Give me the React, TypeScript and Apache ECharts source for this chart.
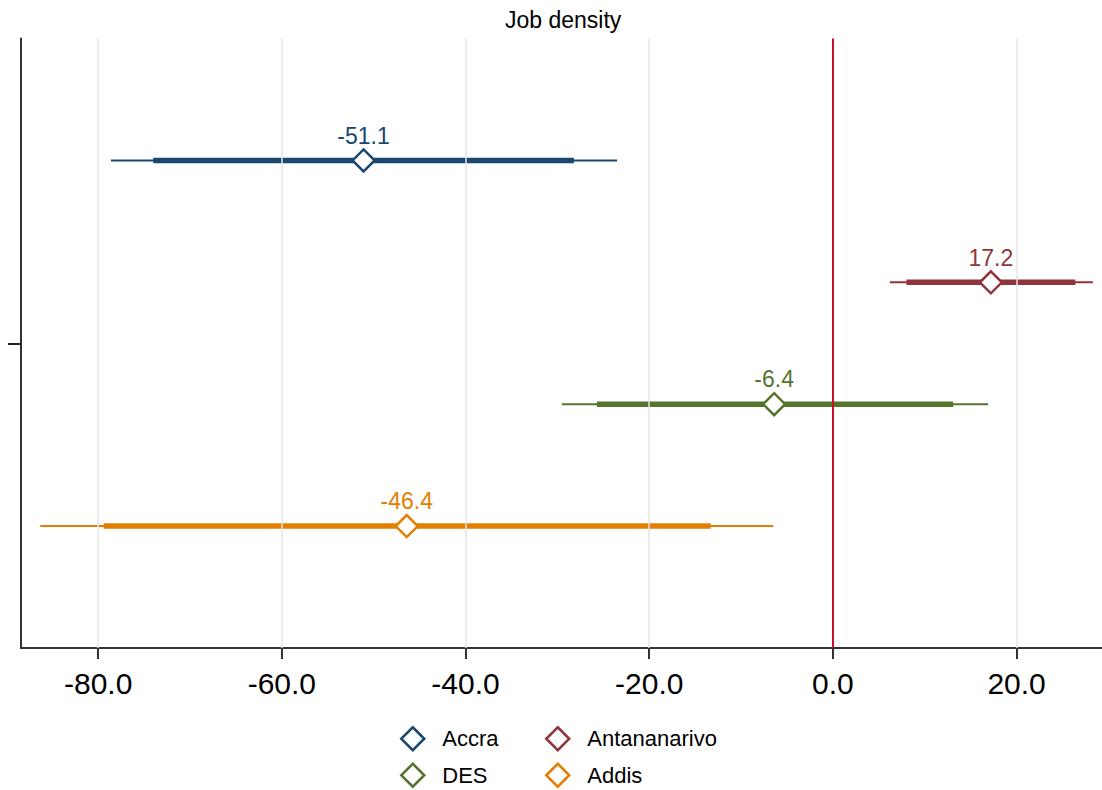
import React, { useEffect, useRef } from "react";
import * as echarts from "echarts";

const cities = ["Accra", "Antananarivo", "DES", "Addis"];
const colors = ["#1a476f", "#90353b", "#55752f", "#e37e00"];
const estimates = [-51.1, 17.2, -6.4, -46.4];
const ci90Low = [-74.0, 8.0, -25.7, -79.4];
const ci90High = [-28.2, 26.4, 13.1, -13.3];
const ci95Low = [-78.6, 6.2, -29.5, -86.3];
const ci95High = [-23.5, 28.3, 16.9, -6.5];
const rows = [1, 2, 3, 4];
const xTickValues = [-80, -60, -40, -20, 0, 20];
const gridValues = [-80, -60, -40, -20, 20];
const refLine = 0;
const yTickValues = [2.5];

const FONT = "'Liberation Sans', Arial, sans-serif";

export default function App() {
  const ref = useRef<HTMLDivElement>(null);

  useEffect(() => {
    if (!ref.current) return;
    const chart = echarts.init(ref.current, null, { renderer: "svg" });

    const series: any[] = [
      {
        name: "_ref",
        type: "line",
        data: [],
        z: 0,
        silent: true,
        markLine: {
          silent: true,
          symbol: "none",
          animation: false,
          label: { show: false },
          data: [
            ...gridValues.map((v) => ({
              xAxis: v,
              lineStyle: { color: "#e6e6e6", width: 1.5, type: "solid" },
            })),
            { xAxis: refLine, lineStyle: { color: "#c8102e", width: 2, type: "solid" } },
          ],
        },
      },
    ];

    cities.forEach((c, i) => {
      const y = rows[i];
      series.push({
        name: c,
        type: "scatter",
        z: 5,
        symbol: "diamond",
        symbolSize: 22,
        itemStyle: { color: "#ffffff", borderColor: colors[i], borderWidth: 2.5, opacity: 1 },
        label: {
          show: true,
          position: "top",
          distance: 1,
          formatter: (p: any) => p.value[0].toFixed(1),
          fontSize: 23,
          fontFamily: FONT,
          color: colors[i],
        },
        data: [[estimates[i], y]],
      });
      series.push({
        name: c,
        type: "line",
        z: 3,
        symbol: "none",
        lineStyle: { color: colors[i], width: 2 },
        data: [
          [ci95Low[i], y],
          [ci95High[i], y],
        ],
      });
      series.push({
        name: c,
        type: "line",
        z: 4,
        symbol: "none",
        lineStyle: { color: colors[i], width: 5.5 },
        data: [
          [ci90Low[i], y],
          [ci90High[i], y],
        ],
      });
    });

    const legendItem = (i: number) => ({
      name: cities[i],
      icon: "diamond",
      itemStyle: { color: "#ffffff", borderColor: colors[i], borderWidth: 2.5 },
    });

    const legendCommon = {
      orient: "vertical",
      top: 726,
      height: 64,
      padding: 0,
      itemGap: 11,
      itemWidth: 23,
      itemHeight: 23,
      selectedMode: false,
      textStyle: {
        fontSize: 22,
        fontFamily: FONT,
        color: "#000",
        padding: [0, 0, 0, 13],
      },
    };

    chart.setOption({
      animation: false,
      backgroundColor: "#ffffff",
      title: {
        text: "Job density",
        left: 500,
        top: 3,
        textStyle: { fontSize: 23, fontWeight: "normal", fontFamily: FONT, color: "#000" },
      },
      legend: [
        { ...legendCommon, left: 400, data: [legendItem(0), legendItem(2)] },
        { ...legendCommon, left: 545, data: [legendItem(1), legendItem(3)] },
      ],
      grid: { left: 21, right: 0, top: 38.5, bottom: 142, containLabel: false },
      xAxis: {
        type: "value",
        min: -88.4,
        max: 29.3,
        axisLine: { show: true, onZero: false, lineStyle: { color: "#333", width: 2 } },
        axisTick: {
          show: true,
          length: 11,
          customValues: xTickValues,
          lineStyle: { color: "#333", width: 2 },
        },
        axisLabel: {
          show: true,
          customValues: xTickValues,
          formatter: (v: number) => v.toFixed(1),
          fontSize: 30,
          fontFamily: FONT,
          color: "#000",
          margin: 20,
        },
        splitLine: { show: false },
      },
      yAxis: {
        type: "value",
        min: 0,
        max: 5,
        inverse: true,
        axisLine: { show: true, onZero: false, lineStyle: { color: "#333", width: 2 } },
        axisTick: {
          show: true,
          length: 13,
          customValues: yTickValues,
          lineStyle: { color: "#222", width: 2 },
        },
        axisLabel: { show: false },
        splitLine: { show: false },
      },
      series,
    });

    return () => chart.dispose();
  }, []);

  return (
    <div
      ref={ref}
      style={{ position: "fixed", left: 0, top: 0, width: 1102, height: 790, background: "#fff" }}
    />
  );
}
